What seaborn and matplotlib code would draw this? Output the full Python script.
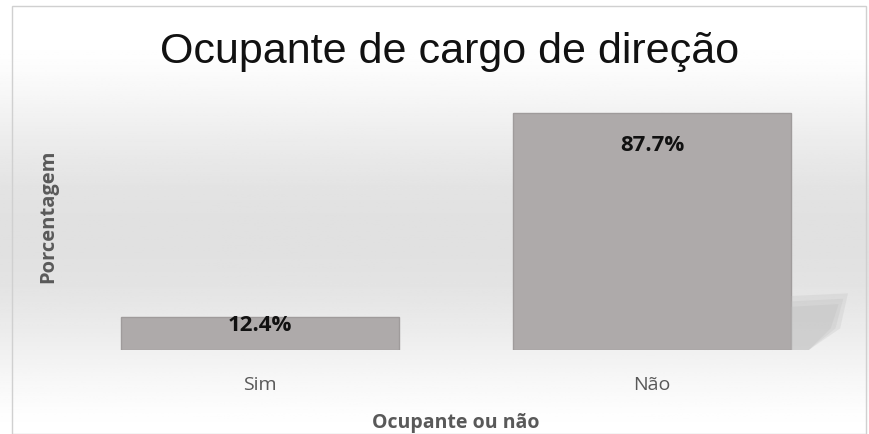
import numpy as np
import pandas as pd
import seaborn as sns
import matplotlib.pyplot as plt
from matplotlib.patches import Rectangle, Polygon

# dados
categorias = ['Sim', 'Não']
porcentagens = [12.4, 87.7]
rotulos = ['12.4%', '87.7%']

df = pd.DataFrame({'ocupante': categorias, 'pct': porcentagens})

sns.set_style('white')
plt.rcParams['font.family'] = ['Open Sans', 'DejaVu Sans']

fig = plt.figure(figsize=(8.69, 4.35), dpi=100)

# fundo em degrade (branco -> cinza -> branco)
bg = fig.add_axes([0, 0, 1, 1], zorder=-10)
t = np.linspace(0, 1, 200)
shade = 1 - 0.12 * np.clip(np.sin(np.pi * (t * 1.1)), 0, 1) ** 1.5
bg.imshow(np.repeat(shade[::-1, None], 2, axis=1), cmap='gray', vmin=0, vmax=1,
          aspect='auto', extent=[0, 1, 0, 1])
bg.set_axis_off()
fig.patches.append(Rectangle((0.014, 0.0), 0.982, 0.985, transform=fig.transFigure,
                             fill=False, edgecolor='#d0d0d0', lw=1))

ax = fig.add_axes([64 / 869, 84 / 435, 784 / 869, 270 / 435])
ax.patch.set_alpha(0)
sns.barplot(data=df, x='ocupante', y='pct', color='#aeaaaa', width=0.71,
            edgecolor='#9f9b9b', linewidth=1, saturation=1, ax=ax)
ax.set_ylim(0, 100)
ax.set_xlim(-0.5, 1.5)

# sombra suave a direita da barra maior
for k, a in enumerate([0.25, 0.25, 0.3]):
    d = k * 0.012
    ax.add_patch(Polygon([[1.355, 0], [1.355, 20 - 2 * k], [1.5 - d, 21 - 2 * k],
                          [1.48 - d, 8], [1.40, 0]],
                         closed=True, facecolor='#bdbdbd', edgecolor='none', alpha=a, zorder=1))

for i, (v, r) in enumerate(zip(porcentagens, rotulos)):
    ax.text(i, max(v - 11.5, v * 0.75), r, ha='center', va='center', fontsize=16,
            fontweight='bold', color='#111111')

ax.set_yticks([])
ax.tick_params(axis='x', length=0, labelsize=14, labelcolor='#595959', pad=18)
for s in ax.spines.values():
    s.set_visible(False)
ax.set_xlabel('Ocupante ou não', fontsize=14, fontweight='bold', color='#595959', labelpad=14)
ax.set_ylabel('Porcentagem', fontsize=14.5, fontweight='bold', color='#595959', labelpad=4)

fig.text(0.517, 0.88, 'Ocupante de cargo de direção', ha='center', va='center',
         fontsize=31, color='#111111', family=['Liberation Sans', 'DejaVu Sans'])

fig.savefig('out.png', dpi=100)
